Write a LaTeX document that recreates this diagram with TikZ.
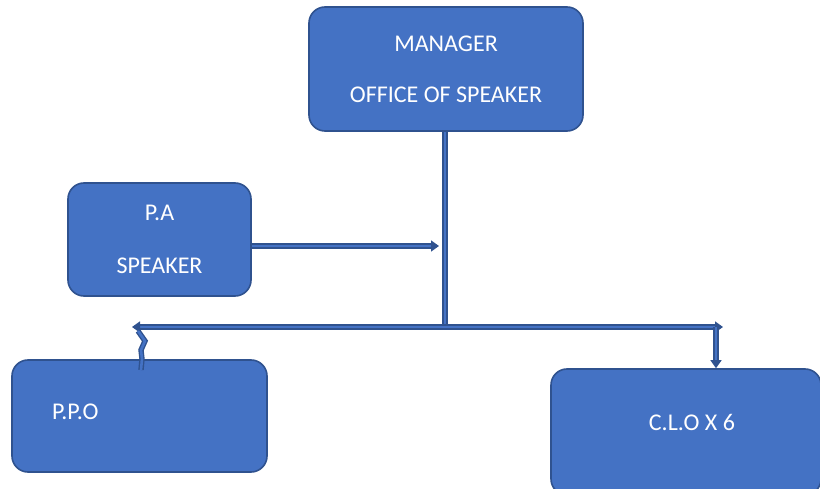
\documentclass[tikz,border=0pt]{standalone}
\usepackage{fontspec}
\setmainfont{Carlito}
\usepackage{xcolor}
\usepackage{tikz}
\usetikzlibrary{shapes, arrows.meta, positioning}

\definecolor{boxfill}{HTML}{4472C4}
\definecolor{boxedge}{HTML}{2F528F}

\begin{document}
\begin{tikzpicture}[
    x=1pt, y=-1pt,
    post/.style={rectangle, draw=boxedge, line width=1.6pt, fill=boxfill, rounded corners=16pt, text=white, align=center, font=\fontsize{24}{51}\selectfont},
    link/.style={draw=boxedge, line width=1.4pt, double=boxfill, double distance=2.6pt},
    tip/.style={link, -{Triangle[length=8pt, width=11pt]}}
]
    \useasboundingbox (0,0) rectangle (820,489);

    % Nodes
    \node [post, minimum width=274pt, minimum height=124pt] (manager) at (446,69) {MANAGER\\OFFICE OF SPEAKER};
    \node [post, minimum width=183pt, minimum height=113pt, font=\fontsize{24}{53}\selectfont] (pa) at (159.5,239.5) {P.A\\SPEAKER};
    \node [post, minimum width=255pt, minimum height=112pt, inner xsep=40pt, text width=175pt, align=left] (ppo) at (139.5,416) {\raisebox{8pt}{P.P.O}};
    \node [post, minimum width=270pt, minimum height=126pt] (clo) at (686,432) {\hspace*{12pt}\raisebox{19pt}{C.L.O X 6}};

    % Junction points
    \coordinate (joint) at (445,327);
    \coordinate (leftend) at (132,327);
    \coordinate (rightend) at (723,327);
    \coordinate (drop) at (716,327);
    \coordinate (painto) at (439,246);

    % Paths
    \path [link] (manager.south -| joint) -- (joint);
    \path [tip] (joint) -- (leftend);
    \path [tip] (joint) -- (rightend);
    \path [tip] (drop) -- (drop |- clo.north);
    \path [tip] (pa.east |- painto) -- (painto);

    % Crooked link down to P.P.O
    \path [link, line join=miter] (138,331) -- (145,341) -- (141,350) -- (142,359) -- (141,370);
\end{tikzpicture}
\end{document}
